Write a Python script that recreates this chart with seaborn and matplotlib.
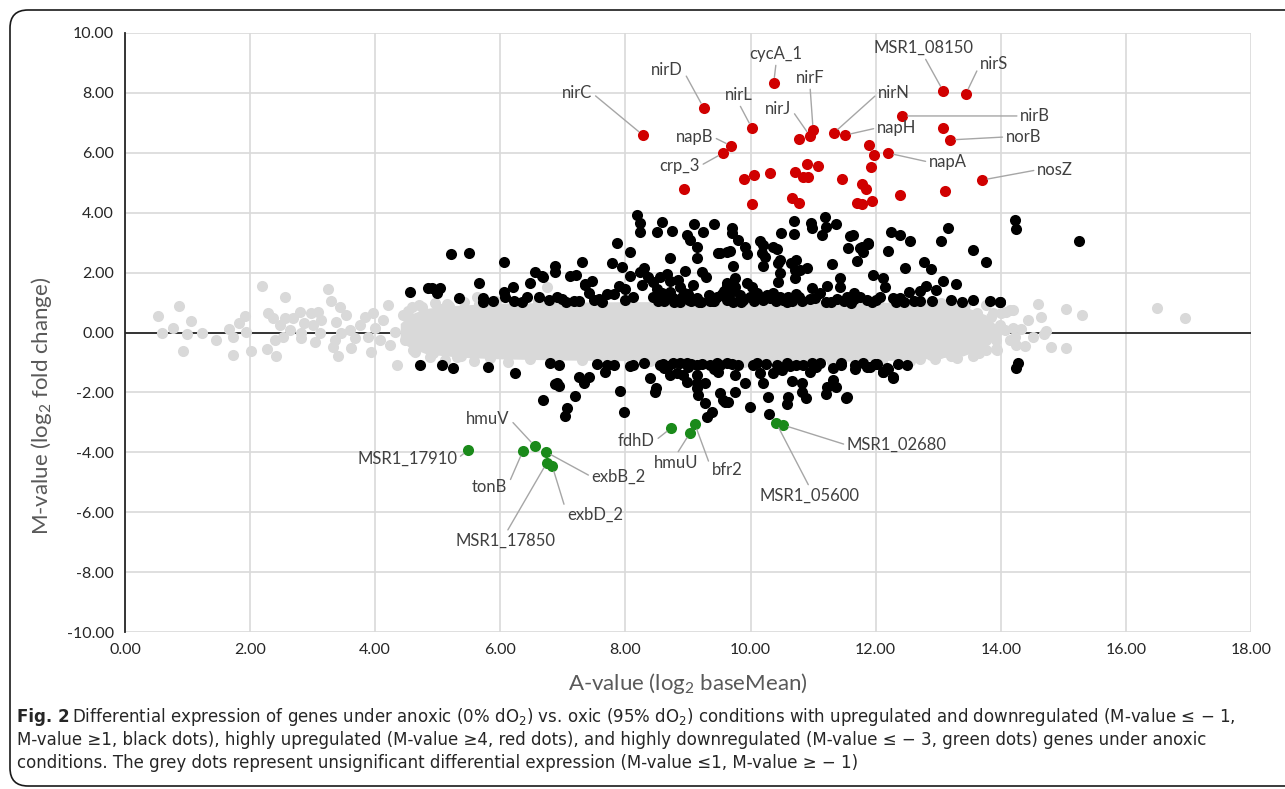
import seaborn as sns
import matplotlib.pyplot as plt
import pandas as pd
from matplotlib.patches import FancyBboxPatch

# highly upregulated genes (red)
red_a = [8.28, 9.25, 10.37, 10.02, 9.69, 9.56, 11.00, 10.95, 10.77, 11.33, 11.51, 13.08, 13.44, 12.42,
         13.08, 13.19, 12.20, 11.90, 11.97, 11.92, 11.46, 11.78, 11.84, 11.70, 11.78, 11.94, 12.39, 13.11,
         13.70, 8.94, 9.89, 10.05, 10.31, 10.02, 10.71, 10.90, 11.08, 10.84, 10.92, 10.66, 10.77]
red_m = [6.59, 7.50, 8.33, 6.83, 6.23, 5.99, 6.76, 6.56, 6.46, 6.66, 6.59, 8.06, 7.96, 7.23,
         6.83, 6.43, 5.99, 6.26, 5.93, 5.52, 5.13, 4.96, 4.79, 4.32, 4.29, 4.39, 4.59, 4.72,
         5.09, 4.79, 5.12, 5.26, 5.33, 4.29, 5.36, 5.63, 5.56, 5.19, 5.19, 4.49, 4.32]
red_gene = ['nirC', 'nirD', 'cycA_1', 'nirL', 'napB', 'crp_3', 'nirF', 'nirJ', '', 'nirN', 'napH',
            'MSR1_08150', 'nirS', 'nirB', '', 'norB', 'napA', '', '', '', '', '', '', '', '', '', '', '',
            'nosZ', '', '', '', '', '', '', '', '', '', '', '', '']

# highly downregulated genes (green)
green_a = [5.48, 6.36, 6.55, 6.73, 6.74, 6.83, 8.73, 9.03, 9.11, 10.41, 10.52]
green_m = [-3.93, -3.96, -3.79, -3.99, -4.36, -4.46, -3.19, -3.36, -3.06, -3.02, -3.09]
green_gene = ['MSR1_17910', 'tonB', 'hmuV', 'exbB_2', 'MSR1_17850', 'exbD_2', 'fdhD', 'hmuU',
              'bfr2', 'MSR1_05600', 'MSR1_02680']

# up / downregulated genes (black)
black_a = [8.18, 8.23, 8.24, 8.59, 8.50, 8.74, 9.10, 9.24, 9.41, 8.98, 9.03, 9.14, 9.48, 9.63, 9.15,
           8.71, 8.08, 7.86, 7.79, 7.94, 5.21, 5.50, 6.06, 6.87, 6.87, 6.55, 6.66, 7.11, 7.21, 7.30,
           7.46, 7.35, 6.47, 6.20, 5.66, 6.06, 6.07, 6.22, 6.43, 6.62, 6.77, 6.91, 6.98, 7.17, 7.26,
           7.41, 7.49, 7.58, 7.70, 7.81, 7.89, 7.99, 7.99, 8.12, 8.07, 8.23, 8.29, 8.36, 8.27, 8.44,
           8.55, 8.67, 8.71, 8.84, 8.95, 8.87, 9.08, 9.22, 9.29, 8.50, 8.58, 8.71, 8.44, 8.55, 8.76,
           8.90, 9.00, 8.87, 9.14, 9.46, 9.54, 9.62, 9.62, 5.73, 5.73, 5.34, 5.04, 4.55, 4.85, 4.90,
           4.98, 6.69, 7.36, 9.70, 9.70, 9.80, 9.67, 9.91, 9.94, 9.72, 9.51, 10.15, 10.20, 10.18, 10.23,
           10.20, 10.36, 10.42, 10.49, 10.69, 10.69, 10.96, 10.98, 11.19, 11.21, 11.36, 11.15, 10.47, 10.44,
           10.65, 10.73, 10.71, 10.79, 10.91, 10.47, 10.71, 10.44, 11.30, 11.55, 11.59, 11.63, 11.75, 11.79,
           11.87, 11.70, 11.96, 12.25, 12.39, 12.55, 12.19, 12.47, 12.77, 12.88, 13.15, 13.05, 13.56, 13.76,
           13.08, 13.29, 12.97, 12.81, 12.71, 12.54, 12.39, 12.28, 12.71, 12.12, 12.15, 12.07, 11.94, 11.75,
           11.65, 11.54, 11.38, 11.43, 11.43, 11.23, 11.11, 10.99, 10.95, 11.03, 10.82, 10.73, 10.60, 10.59,
           10.47, 10.36, 10.31, 10.14, 10.10, 10.20, 9.99, 10.02, 9.88, 9.83, 9.94, 9.75, 9.75, 9.62,
           9.67, 9.56, 13.56, 13.82, 13.98, 11.65, 11.86, 14.23, 14.25, 15.25, 13.99, 11.78, 11.87, 8.62,
           8.80, 9.05, 9.35, 9.18, 8.95, 9.42, 9.85, 10.40, 10.67, 11.28, 11.50, 12.00, 12.45, 12.62,
           8.52, 8.65, 8.78, 8.93, 9.02, 9.20, 9.33, 9.40, 9.58, 9.72, 10.05, 10.27, 10.52, 10.78,
           11.20, 11.60, 12.33, 12.90, 13.20, 13.38, 7.62, 7.05, 6.35, 5.88,
           # lower band
           4.72, 5.06, 5.24, 5.81, 6.23, 6.93, 6.87, 6.94, 6.69, 7.19, 7.06, 7.03, 7.25, 7.33, 7.41,
           7.70, 7.68, 7.81, 8.07, 8.12, 7.92, 7.98, 8.39, 8.49, 8.47, 8.55, 8.68, 8.76, 8.71, 8.87,
           8.98, 8.82, 8.92, 8.98, 9.14, 9.14, 9.14, 9.27, 9.14, 9.16, 9.27, 9.38, 9.30, 9.35, 9.46,
           9.48, 9.51, 9.59, 9.62, 9.51, 9.75, 9.91, 9.75, 9.56, 9.64, 9.99, 10.28, 10.30, 10.20, 10.04,
           10.15, 10.36, 10.42, 10.58, 10.63, 10.67, 10.82, 10.82, 10.89, 10.60, 10.58, 10.84, 10.95, 10.98,
           11.11, 11.32, 11.32, 11.36, 11.22, 11.20, 11.52, 11.67, 11.67, 11.86, 11.99, 12.12, 12.20, 12.28,
           11.91, 12.02, 12.18, 12.12, 12.28, 11.54, 14.28, 14.24, 6.90, 9.05, 9.70, 10.25, 11.45, 8.60,
           8.30, 8.62, 9.00, 9.22, 9.42, 9.80, 10.10, 10.50, 10.72, 11.05, 11.45, 11.80, 12.35, 12.50,
           7.55, 6.80]
black_m = [3.92, 3.67, 3.35, 3.70, 3.37, 3.39, 3.61, 3.37, 3.61, 3.26, 3.09, 2.84, 2.66, 2.70, 2.50,
           2.48, 2.68, 2.98, 2.33, 2.20, 2.61, 2.64, 2.36, 2.23, 2.03, 2.03, 1.89, 1.90, 1.92, 2.34,
           1.72, 1.59, 1.66, 1.53, 1.66, 1.36, 1.20, 1.06, 1.17, 1.20, 1.09, 1.20, 1.12, 1.06, 1.05,
           1.33, 1.09, 1.12, 1.28, 1.28, 1.55, 1.44, 1.09, 1.17, 1.89, 2.03, 2.14, 1.84, 1.59, 1.70,
           1.86, 1.95, 1.72, 1.75, 2.05, 1.51, 1.59, 2.03, 1.86, 1.44, 1.33, 1.36, 1.20, 1.11, 1.14,
           1.20, 1.28, 1.03, 1.14, 1.20, 1.28, 1.59, 1.09, 1.14, 1.03, 1.16, 1.49, 1.36, 1.48, 1.48,
           1.31, 1.86, 1.61, 3.48, 3.31, 3.09, 2.72, 2.86, 2.62, 2.23, 2.66, 3.06, 2.92, 2.66, 2.51,
           2.22, 2.86, 2.78, 3.31, 3.73, 3.28, 3.67, 3.48, 3.87, 3.53, 3.62, 3.26, 2.42, 2.31,
           2.31, 2.42, 2.09, 2.09, 2.14, 2.00, 1.81, 1.70, 2.28, 2.83, 3.22, 3.26, 2.83, 2.70,
           2.98, 2.40, 1.92, 3.37, 3.26, 3.07, 2.72, 2.14, 2.36, 2.12, 3.50, 3.06, 2.75, 2.36,
           1.72, 1.62, 1.42, 1.55, 1.40, 1.34, 1.14, 1.14, 1.06, 1.81, 1.51, 1.17, 1.03, 1.20,
           1.31, 1.20, 1.12, 1.53, 1.81, 1.55, 1.31, 1.48, 1.11, 1.16, 1.06, 1.28, 1.17, 1.03,
           1.20, 1.33, 1.14, 1.20, 1.31, 1.09, 1.20, 1.53, 1.09, 1.25, 1.64, 1.81, 1.51, 1.66,
           1.33, 1.25, 1.09, 1.06, 1.03, 1.11, 1.09, 3.76, 3.45, 3.07, 1.01, 2.86, 2.95, 1.05,
           1.08, 1.04, 1.06, 1.02, 1.25, 1.05, 1.02, 1.04, 1.06, 1.02, 1.05, 1.08, 1.03, 1.05,
           1.05, 1.22, 1.02, 1.33, 1.10, 1.02, 1.25, 1.05, 1.40, 1.02, 1.05, 1.24, 1.08, 1.20,
           1.02, 1.00, 1.02, 1.05, 1.10, 1.02, 1.02, 1.02, 1.03, 1.05,
           # lower band
           -1.09, -1.09, -1.20, -1.14, -1.36, -1.09, -1.72, -1.79, -2.25, -2.12, -2.53, -2.78, -1.47, -1.70, -1.47,
           -1.09, -1.31, -1.09, -1.12, -1.09, -1.94, -2.64, -1.53, -1.86, -1.98, -1.09, -1.12, -1.03, -1.42, -1.03,
           -1.03, -1.36, -1.42, -1.64, -1.09, -1.42, -1.70, -1.70, -1.86, -2.09, -2.34, -2.64, -2.81, -1.09, -1.03,
           -1.31, -2.03, -2.31, -1.03, -1.09, -1.42, -1.70, -1.98, -2.25, -2.31, -2.48, -2.14, -2.73, -1.67, -1.09,
           -1.36, -1.36, -1.09, -1.03, -1.12, -1.62, -1.70, -1.98, -2.18, -2.14, -2.39, -1.09, -1.31, -1.03,
           -1.03, -1.20, -1.59, -1.83, -1.83, -2.06, -2.18, -1.09, -1.23, -1.14, -1.05, -1.31, -1.23, -1.50,
           -1.14, -1.06, -1.20, -1.31, -1.51, -2.14, -1.01, -1.20, -1.70, -1.05, -1.04, -1.05, -1.02, -1.04,
           -1.02, -1.20, -1.15, -1.05, -1.22, -1.10, -1.02, -1.25, -1.08, -1.15, -1.08, -1.02, -1.05, -1.10,
           -1.05, -1.02]

# scattered non-significant genes (grey) outside the dense core
grey_a = [0.53, 0.59, 0.76, 0.87, 0.93, 0.99, 1.05, 1.23, 1.45, 1.66, 1.72, 1.73, 1.82, 1.92, 1.93,
          2.01, 2.19, 2.27, 2.29, 2.36, 2.42, 2.40, 2.48, 2.52, 2.56, 2.56, 2.64, 2.69, 2.79, 2.82,
          2.81, 2.86, 2.98, 3.01, 3.04, 3.09, 3.12, 3.14, 3.25, 3.30, 3.33, 3.36, 3.41, 3.44, 3.38,
          3.46, 3.54, 3.60, 3.62, 3.68, 3.76, 3.84, 3.89, 3.94, 3.97, 4.00, 4.08, 4.13, 4.21, 4.24,
          4.32, 4.35, 4.45, 4.48, 4.58, 4.61, 4.74, 4.66, 4.80, 4.92, 5.15, 5.62, 6.74, 5.05, 5.30,
          14.60, 15.05, 15.30, 14.64, 14.44, 16.49, 16.94, 14.33, 14.20, 14.73, 14.52, 14.69, 14.39, 14.81, 15.05,
          14.25, 14.15, 13.94, 14.15, 13.88, 14.07, 13.93, 14.23, 14.09, 13.93, 13.77, 13.56, 13.21, 13.03, 12.89,
          12.71, 13.77, 13.93, 13.99, 13.85, 13.62, 13.43, 13.21, 12.87, 13.77, 14.01, 14.20, 13.60, 13.75, 13.50,
          # ragged edge of the dense core
          4.52, 4.70, 4.95, 5.18, 5.42, 5.66, 5.93, 6.28, 6.61, 7.08, 7.52, 4.63, 4.88, 5.12, 5.37,
          5.58, 5.84, 6.12, 6.47, 6.85, 7.30, 7.80, 8.40, 9.10, 9.90, 10.60, 11.30, 12.10, 12.55, 12.95,
          13.30, 13.65, 12.65, 13.05, 13.40]
grey_m = [0.55, 0.00, 0.14, 0.88, -0.62, -0.05, 0.39, -0.03, -0.25, 0.11, -0.14, -0.75, 0.31, 0.55, 0.03,
          -0.62, 1.55, -0.56, 0.64, 0.47, -0.78, -0.25, 0.25, -0.14, 1.17, 0.47, 0.08, 0.47, 0.70, -0.01,
          -0.19, 0.33, 0.64, 0.25, -0.31, 0.70, -0.03, 0.42, 1.44, 1.06, -0.47, -0.25, -0.78, 0.86, 0.36,
          -0.03, 0.58, 0.08, -0.53, -0.19, 0.25, 0.53, -0.14, -0.64, 0.64, 0.14, -0.25, 0.42, 0.92, -0.42,
          0.03, -1.08, 0.58, -0.25, 0.86, -0.58, 0.86, -0.40, 0.55, -0.70, 0.95, 1.20, 1.53, 0.80, -0.82,
          0.94, 0.78, 0.58, 0.53, 0.42, 0.83, 0.49, 0.11, 0.14, 0.05, -0.14, -0.06, -0.44, -0.47, -0.53,
          -0.42, -0.25, -0.58, 0.75, 0.64, 0.08, -0.25, -0.14, 0.70, -0.56, -0.58, -0.78, -0.78, -0.69, -0.75,
          -0.90, -0.25, -0.03, 0.25, 0.51, 0.64, 0.92, 0.95, 0.97, 0.92, 0.64, 0.75, 0.30, -0.10, -0.40,
          0.72, 0.93, 0.98, 0.88, 1.02, 0.96, 1.05, 0.99, 1.04, 0.97, 1.03, -0.66, -0.82, -0.92, -0.80,
          -0.95, -0.86, -0.97, -0.90, -0.98, -0.93, -0.99, -0.96, -0.99, -0.97, -0.99, -0.98, -0.96, -0.94, -0.90,
          -0.85, -0.70, 1.00, 0.97, 0.93]

# outline of the dense grey core where the dots merge into a solid band
band_a = [4.40, 4.55, 4.8, 5.1, 5.5, 6.0, 7.0, 8.0, 9.0, 10.0, 11.0, 12.0, 12.6, 13.0, 13.4, 13.75, 13.95]
band_hi = [0.30, 0.60, 0.80, 0.88, 0.93, 0.98, 1.01, 1.03, 1.03, 1.03, 1.03, 1.02, 0.98, 0.95, 0.88, 0.60, 0.20]
band_lo = [-0.30, -0.50, -0.70, -0.78, -0.84, -0.88, -0.92, -0.94, -0.95, -0.96, -0.96, -0.95, -0.90, -0.85, -0.78, -0.50, -0.10]

x_ticks = [0, 2, 4, 6, 8, 10, 12, 14, 16, 18]
y_ticks = [-10, -8, -6, -4, -2, 0, 2, 4, 6, 8, 10]

# label text anchors (data coords) and alignment
label_pos = {
    'nirC': (7.47, 7.99, 'right', 'center'), 'nirD': (8.92, 8.76, 'right', 'center'),
    'cycA_1': (10.41, 9.03, 'center', 'bottom'), 'nirL': (9.81, 7.66, 'center', 'bottom'),
    'napB': (9.40, 6.53, 'right', 'center'), 'crp_3': (9.19, 5.56, 'right', 'center'),
    'nirJ': (10.65, 7.46, 'right', 'center'), 'nirF': (10.95, 8.23, 'center', 'bottom'),
    'nirN': (12.04, 7.99, 'left', 'center'), 'napH': (12.02, 6.83, 'left', 'center'),
    'MSR1_08150': (12.77, 9.23, 'center', 'bottom'), 'nirS': (13.67, 8.96, 'left', 'center'),
    'nirB': (14.31, 7.23, 'left', 'center'), 'norB': (14.08, 6.53, 'left', 'center'),
    'napA': (12.85, 5.69, 'left', 'center'), 'nosZ': (14.58, 5.43, 'left', 'center'),
    'MSR1_17910': (5.31, -4.22, 'right', 'center'), 'hmuV': (6.15, -2.89, 'right', 'center'),
    'tonB': (6.11, -5.16, 'right', 'center'), 'exbB_2': (7.46, -4.82, 'left', 'center'),
    'exbD_2': (7.07, -6.09, 'left', 'center'), 'MSR1_17850': (6.09, -6.70, 'center', 'top'),
    'fdhD': (8.47, -3.62, 'right', 'center'), 'hmuU': (8.81, -4.09, 'center', 'top'),
    'bfr2': (9.38, -4.59, 'left', 'center'), 'MSR1_05600': (10.95, -5.19, 'center', 'top'),
    'MSR1_02680': (11.54, -3.76, 'left', 'center'),
}

sns.set_style('white')
plt.rcParams['font.family'] = ['Lato', 'DejaVu Sans']
plt.rcParams['mathtext.default'] = 'regular'

df = pd.concat([
    pd.DataFrame({'A': grey_a, 'M': grey_m, 'grp': 'grey'}),
    pd.DataFrame({'A': black_a, 'M': black_m, 'grp': 'black'}),
    pd.DataFrame({'A': red_a, 'M': red_m, 'grp': 'red', 'gene': red_gene}),
    pd.DataFrame({'A': green_a, 'M': green_m, 'grp': 'green', 'gene': green_gene}),
], ignore_index=True)
colors = {'grey': '#D9D9D9', 'black': '#000000', 'red': '#D00000', 'green': '#1A8A1A'}

fig = plt.figure(figsize=(12.85, 7.89), dpi=100)
ax = fig.add_axes([125 / 1285, 1 - 632 / 789, 1126 / 1285, 599 / 789])

ax.fill_between(band_a, band_lo, band_hi, color=colors['grey'], lw=0, zorder=2)
for grp in ['grey', 'black', 'red', 'green']:
    sub = df[df['grp'] == grp]
    sns.scatterplot(data=sub, x='A', y='M', color=colors[grp], s=64, linewidth=0, ax=ax,
                    zorder=3, legend=False)

ax.axhline(0, color='#262626', lw=1.3, zorder=1.5)

for _, row in df[df['grp'].isin(['red', 'green'])].iterrows():
    if not row['gene']:
        continue
    tx, ty, ha, va = label_pos[row['gene']]
    rel = {'right': 1.0, 'left': 0.0, 'center': 0.5}[ha], {'center': 0.5, 'bottom': 0.0, 'top': 1.0}[va]
    ax.annotate(row['gene'], xy=(row['A'], row['M']), xytext=(tx, ty), ha=ha, va=va,
                fontsize=12, color='#404040', zorder=5,
                arrowprops=dict(arrowstyle='-', color='#A6A6A6', lw=1, relpos=rel,
                                shrinkA=0, shrinkB=4))

ax.set_xlim(0, 18)
ax.set_ylim(-10, 10)
ax.set_xticks(x_ticks)
ax.set_yticks(y_ticks)
ax.set_xticklabels([f'{v:.2f}' for v in x_ticks])
ax.set_yticklabels([f'{v:.2f}' for v in y_ticks])
ax.tick_params(length=0, labelsize=11.5, labelcolor='#262626', pad=8)
ax.grid(True, color='#D9D9D9', lw=1.2, zorder=0)
ax.set_axisbelow(True)
for side in ['top', 'right', 'bottom']:
    ax.spines[side].set_visible(False)
ax.spines['left'].set_color('#262626')
ax.spines['left'].set_linewidth(1.3)
ax.set_xlabel('')
ax.set_ylabel('')

fig.text(688 / 1285, 1 - 683 / 789, 'A-value (log$_2$ baseMean)', ha='center', va='center',
         fontsize=16, color='#595959')
fig.text(42 / 1285, 1 - 406 / 789, 'M-value (log$_2$ fold change)', ha='center', va='center',
         rotation=90, fontsize=16, color='#595959')

cap_font = ['Liberation Sans Narrow', 'DejaVu Sans']
fig.text(17 / 1285, 1 - 717 / 789, 'Fig. 2', ha='left', va='center', fontsize=12, weight='bold',
         family=cap_font)
cap = ['Differential expression of genes under anoxic (0% dO$_2$) vs. oxic (95% dO$_2$) conditions with upregulated and downregulated (M-value ≤ − 1,',
       'M-value ≥1, black dots), highly upregulated (M-value ≥4, red dots), and highly downregulated (M-value ≤ − 3, green dots) genes under anoxic',
       'conditions. The grey dots represent unsignificant differential expression (M-value ≤1, M-value ≥ − 1)']
fig.text(72 / 1285, 1 - 717 / 789, cap[0], ha='left', va='center', fontsize=12, family=cap_font)
fig.text(17 / 1285, 1 - 740 / 789, cap[1], ha='left', va='center', fontsize=12, family=cap_font)
fig.text(17 / 1285, 1 - 763 / 789, cap[2], ha='left', va='center', fontsize=12, family=cap_font)

box = FancyBboxPatch((10, 3), 1300, 776, boxstyle='round,pad=0,rounding_size=18',
                     transform=None, fill=False, edgecolor='#1a1a1a', lw=1.2)
fig.add_artist(box)

fig.savefig('out.png', dpi=100)
